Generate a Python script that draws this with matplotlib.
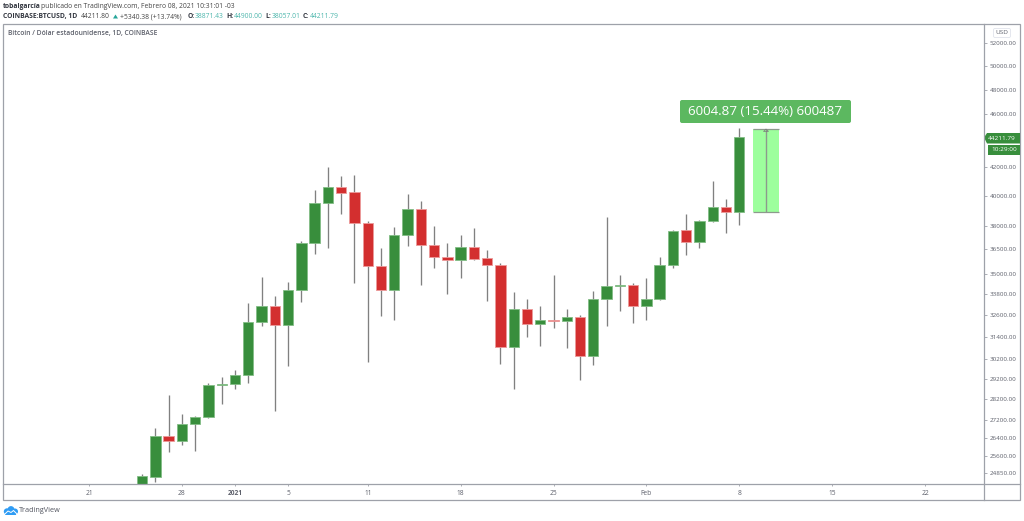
import matplotlib

matplotlib.use("Agg")
import matplotlib.dates as mdates
import matplotlib.pyplot as plt
import pandas as pd
from matplotlib.patches import Circle, FancyBboxPatch, Polygon, Rectangle

plt.rcParams["font.family"] = ["Open Sans", "DejaVu Sans"]

# daily candles, Dec 25 2020 to Feb 8 2021
dates = pd.date_range("2020-12-25", "2021-02-08", freq="D")
opens = [24000, 24700, 26500, 26255, 27020, 27360, 28890, 28975, 29390, 32195, 33075, 32030,
         34030, 36855, 39480, 40620, 40235, 38145, 35430, 34015, 37370, 39075, 36750, 35980,
         35795, 36605, 35920, 35490, 30840, 32960, 32100, 32290, 32235, 32490, 30405, 33475,
         34250, 34290, 33130, 33510, 35490, 37690, 36960, 38300, 39230, 38871.43]
highs = [24790, 26835, 28400, 27490, 27395, 29005, 29305, 29680, 33300, 34800, 33680, 34485,
         37000, 40393, 42000, 41400, 41450, 38280, 36580, 37885, 40120, 39655, 37950, 36855,
         37390, 37840, 36415, 35610, 33880, 33490, 33090, 34900, 32960, 32590, 33995, 38580,
         34885, 34410, 34720, 35980, 37730, 38760, 38345, 41000, 39750, 44900.00]
lows = [23800, 24460, 25750, 26060, 25825, 27300, 27975, 28695, 29005, 31990, 27665, 29865,
        33340, 36185, 36540, 38780, 34410, 30075, 32535, 32306, 36705, 34290, 35345, 33820,
        34705, 35835, 33380, 29990, 28710, 31400, 30910, 31880, 30800, 29141, 29900, 31990,
        32825, 32155, 32320, 33435, 35345, 36145, 36560, 38215, 37530, 38057.01]
closes = [24710, 26470, 26255, 27035, 27380, 28890, 28975, 29390, 32210, 33075, 32030, 34030,
          36855, 39480, 40620, 40205, 38145, 35430, 34015, 37370, 39075, 36750, 35980, 35795,
          36605, 35895, 35490, 30840, 32960, 32100, 32290, 32235, 32490, 30405, 33475, 34250,
          34290, 33130, 33510, 35490, 37645, 36960, 38300, 39230, 38870, 44211.79]

y_ticks = [52000, 50000, 48000, 46000, 42000, 40000, 38000, 36500, 35000, 33800, 32600,
           31400, 30200, 29200, 28200, 27200, 26400, 25600, 24850]
x_tick_dates = ["2020-12-21", "2020-12-28", "2021-01-01", "2021-01-05", "2021-01-11", "2021-01-18",
                "2021-01-25", "2021-02-01", "2021-02-08", "2021-02-15", "2021-02-22"]
x_tick_labels = ["21", "28", "2021", "5", "11", "18", "25", "Feb", "8", "15", "22"]

measure_low = 38871.43
measure_high = 44876.30
measure_start = "2021-02-09"
measure_end = "2021-02-11"

GREEN = "#388e3c"
RED = "#d32f2f"
WICK = "#808080"
FRAME = "#9ea1a9"
TEXT = "#5d606b"

W, H = 1024, 521
fig = plt.figure(figsize=(W / 100, H / 100), dpi=100, facecolor="white")
ax = fig.add_axes([3 / W, 1 - 484 / H, 981 / W, 460 / H])

x = mdates.date2num(dates)
up = [c >= o for o, c in zip(opens, closes)]
body_low = [min(o, c) for o, c in zip(opens, closes)]
body_size = [abs(c - o) for o, c in zip(opens, closes)]
colors = [GREEN if u else RED for u in up]
edges = ["#83bd86" if u else "#ec9a9a" for u in up]

ax.vlines(x, lows, highs, color=WICK, linewidth=0.95, zorder=2)
ax.bar(x, body_size, bottom=body_low, width=0.78, color=colors, edgecolor=edges, linewidth=0.6, zorder=3)

# measure tool
m0 = mdates.date2num(pd.Timestamp(measure_start))
m1 = mdates.date2num(pd.Timestamp(measure_end))
ax.add_patch(Rectangle((m0, measure_low), m1 - m0, measure_high - measure_low, facecolor="#9dff9d",
                       edgecolor="none", zorder=2))
ax.hlines([measure_low, measure_high], m0, m1, color="#8d9a8d", linewidth=0.9, zorder=3)
ax.vlines((m0 + m1) / 2, measure_low, measure_high, color="#8d9a8d", linewidth=1.0, zorder=3)

ax.set_yscale("log")
ax.set_ylim(24385, 53725)
jan1 = mdates.date2num(pd.Timestamp("2021-01-01"))
ax.set_xlim(jan1 - 17.483, jan1 + 56.44)

ax.yaxis.tick_right()
ax.set_yticks(y_ticks)
ax.set_yticklabels([f"{v:.2f}" for v in y_ticks])
ax.minorticks_off()
ax.tick_params(axis="y", length=2.5, width=0.6, color=FRAME, labelcolor=TEXT, labelsize=4.5, pad=1.5)

ax.set_xticks(mdates.date2num(pd.to_datetime(x_tick_dates)))
ax.set_xticklabels(x_tick_labels)
ax.tick_params(axis="x", length=1.5, width=0.6, color=FRAME, labelcolor=TEXT, labelsize=4.8, pad=3)
for label in ax.get_xticklabels():
    if label.get_text() == "2021":
        label.set_fontweight("bold")
for spine in ax.spines.values():
    spine.set_visible(False)

# everything around the chart, placed in image pixels
ov = fig.add_axes([0, 0, 1, 1], facecolor="none")
ov.set_xlim(0, W)
ov.set_ylim(H, 0)
ov.axis("off")

ov.add_patch(Rectangle((3, 24), 1017, 476, facecolor="none", edgecolor=FRAME, linewidth=0.9))
ov.plot([3, 1020], [484, 484], color=FRAME, linewidth=0.9)
ov.plot([984, 984], [24, 500], color=FRAME, linewidth=0.9)

ov.text(3, 6.5, "tobalgarcía", fontsize=4.9, fontweight="bold", color="#333740", va="center")
ov.text(41, 6.5, "publicado en TradingView.com, Febrero 08, 2021 10:31:01 -03", fontsize=4.9, color="#444", va="center")
ov.text(3, 16.5, "COINBASE:BTCUSD, 1D", fontsize=4.9, fontweight="bold", color="#333740", va="center")
ov.text(81, 16.5, "44211.80", fontsize=4.9, color="#444", va="center")
ov.add_patch(Polygon([[113, 18.5], [118, 18.5], [115.5, 14.5]], color="#26a69a", linewidth=0))
ov.text(120, 16.5, "+5340.38 (+13.74%)", fontsize=4.9, color="#444", va="center")
for px, vx, name, value in [(187.5, 195, "O:", "38871.43"), (226, 234, "H:", "44900.00"),
                            (265, 272, "L:", "38057.01"), (303, 310, "C:", "44211.79")]:
    ov.text(px, 16.5, name, fontsize=4.9, fontweight="bold", color="#333740", va="center")
    ov.text(vx, 16.5, value, fontsize=4.9, color="#4db6ac", va="center")
ov.text(8, 34, "Bitcoin / Dólar estadounidense, 1D, COINBASE", fontsize=4.9, fontweight="semibold", color=TEXT, va="center")

ov.add_patch(FancyBboxPatch((994, 29), 16, 8, boxstyle="round,pad=0.5,rounding_size=1.5", facecolor="white",
                            edgecolor="#e0e3eb", linewidth=0.6))
ov.text(1002, 33, "USD", fontsize=4.6, color=TEXT, ha="center", va="center")

# last price tags
ov.add_patch(Polygon([[984, 137.5], [987, 133], [1020, 133], [1020, 143.5], [987, 143.5]], color=GREEN, linewidth=0))
ov.text(1002, 138.3, "44211.79", fontsize=4.6, color="white", ha="center", va="center")
ov.add_patch(Rectangle((988, 144.5), 32, 10.5, color=GREEN, linewidth=0))
ov.text(1004, 149.8, "10:29:00", fontsize=4.6, color="white", ha="center", va="center")

# measure label
ov.add_patch(FancyBboxPatch((681, 101), 169, 21, boxstyle="round,pad=1,rounding_size=2", facecolor="#5cb860",
                            edgecolor="none"))
ov.text(765.5, 111.5, "6004.87 (15.44%) 600487", fontsize=9.6, color="white", ha="center", va="center")
ov.add_patch(Polygon([[763.5, 131.5], [768.5, 131.5], [766, 129]], facecolor="none", edgecolor="#7a7a7a", linewidth=0.5))

# logo
for cx, cy, r in [(7, 511.5, 3.2), (11, 509.5, 3.4), (15, 511.5, 3)]:
    ov.add_patch(Circle((cx, cy), r, color="#2f9cf4", linewidth=0))
ov.add_patch(Rectangle((5, 511.5), 11, 3.5, color="#2f9cf4", linewidth=0))
ov.plot([4.5, 8, 11, 13.5, 17], [514.5, 511, 512.5, 510.5, 514], color="white", linewidth=0.7)
ov.text(19, 511, "TradingView", fontsize=5.2, color="#50535e", va="center")

fig.savefig("out.png", dpi=100)
